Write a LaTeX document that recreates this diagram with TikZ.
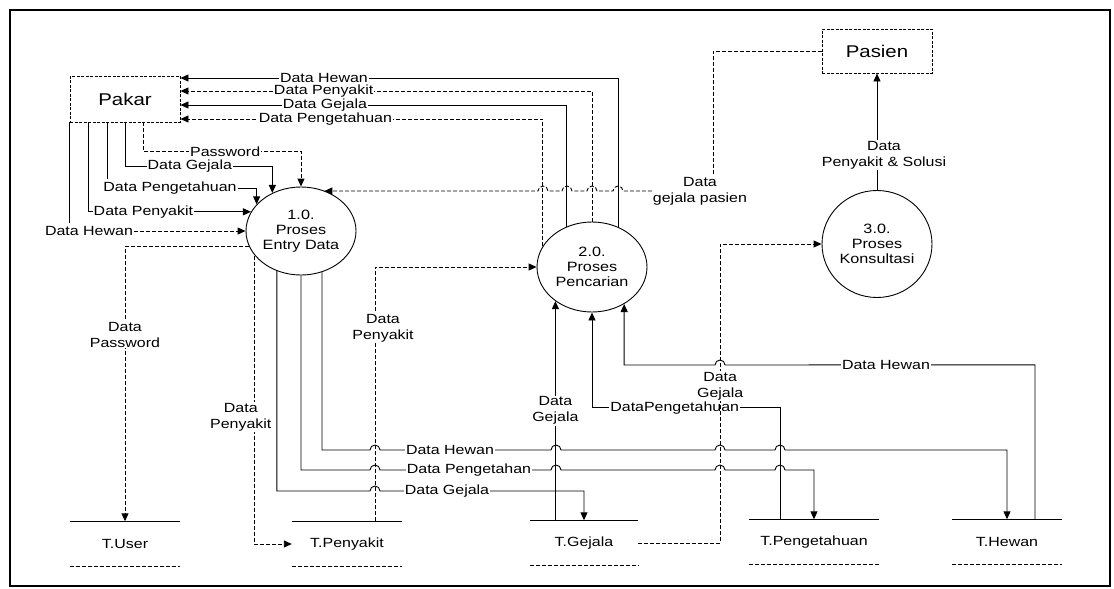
\documentclass[tikz,border=0pt]{standalone}
\usepackage{fontspec}
\setmainfont{Liberation Sans}[FakeStretch=1.2]
\usetikzlibrary{arrows.meta,shapes.geometric}

\newcommand{\labfont}{\fontsize{13.3}{16}\selectfont}
\newcommand{\entfont}{\fontsize{17}{17}\selectfont}
% small hop over a crossing line, going right / going left
\newcommand{\hopr}[2]{-- ({#1-5},#2) arc (180:0:5)}
\newcommand{\hopl}[2]{-- ({#1+5},#2) arc (0:180:5)}

\begin{document}
\begin{tikzpicture}[x=1pt,y=1pt,
  flow/.style={line width=0.9pt},
  dflow/.style={flow,dash pattern=on 4pt off 2pt},
  arr/.style={-{Triangle[length=8pt,width=7pt]}},
  ent/.style={draw,line width=0.9pt,dash pattern=on 3pt off 1.5pt,font=\entfont},
  proc/.style={ellipse,draw,line width=0.9pt,inner sep=0pt,align=center,font=\fontsize{13.5}{15}\selectfont},
  store/.style={minimum height=45pt,inner sep=0pt,font=\labfont},
  lbl/.style={fill=white,inner sep=1pt,align=center,font=\labfont}]
  \useasboundingbox (0,0) rectangle (1114,-589);
  \draw[line width=1.4pt] (10,-10) rectangle (1110,-586);

  % externals
  \node[ent,minimum width=110pt,minimum height=46pt] (pakar) at (125,-99) {Pakar};
  \node[ent,minimum width=110pt,minimum height=44pt] (pasien) at (877,-51) {Pasien};

  % processes
  \node[proc,minimum width=110pt,minimum height=88pt] (p1) at (301,-231) {1.0.\\Proses\\Entry Data};
  \node[proc,minimum width=110pt,minimum height=90pt] (p2) at (592,-267) {2.0.\\Proses\\Pencarian};
  \node[proc,minimum width=110pt,minimum height=107pt] (p3) at (877,-244) {3.0.\\Proses\\Konsultasi};

  % data stores
  \node[store,minimum width=110pt] (tuser) at (125,-544) {T.User};
  \node[store,minimum width=110pt] (tpenyakit) at (347,-544) {T.Penyakit};
  \node[store,minimum width=108pt] (tgejala) at (584,-543) {T.Gejala};
  \node[store,minimum width=130pt] (tpengetahuan) at (814,-542) {T.Pengetahuan};
  \node[store,minimum width=110pt] (thewan) at (1007,-542) {T.Hewan};
  \foreach \s in {tuser,tpenyakit,tgejala,tpengetahuan,thewan}{
    \draw[flow] (\s.north west) -- (\s.north east);
    \draw[dflow] (\s.south west) -- (\s.south east);
  }

  % 2.0 back to Pakar
  \draw[flow,arr] (p2.57) |- ([yshift=21pt]pakar.east) node[lbl,pos=0.836] (lh1) {Data Hewan};
  \draw[dflow,arr] (p2.north) |- ([yshift=8pt]pakar.east) node[lbl,pos=0.826] (lpy1) {Data Penyakit};
  \draw[flow,arr] (p2.122) |- ([yshift=-6pt]pakar.east) node[lbl,pos=0.813] (lgj1) {Data Gejala};
  \draw[dflow,arr] (p2.157) |- ([yshift=-20pt]pakar.east) node[lbl,pos=0.80] (lpg1) {Data Pengetahuan};

  % Pasien to 1.0
  \node[lbl] (gp) at (700,-191) {Data\\gejala pasien};
  \draw[dflow] (pasien.west) -| ([xshift=13pt]gp.north);
  \draw[dflow,arr] (gp.west) \hopl{618}{-191} \hopl{592}{-191} \hopl{567}{-191} \hopl{543}{-191} -- (gp.west -| p1.60);

  % Pakar to 1.0
  \draw[dflow,arr] ([xshift=18pt]pakar.south) -- ++(0,-29) -| (p1.north) node[lbl,pos=0.26] (lpw) {Password};
  \draw[flow,arr] (pakar.south) -- ++(0,-44) -| (p1.127) node[lbl,pos=0.22] (lgj) {Data Gejala};
  \node[lbl] (lpg) at (170,-188) {Data Pengetahuan};
  \draw[flow] ([xshift=-18pt]pakar.south) -- ++(0,-57);
  \draw[flow,arr] (lpg.east) -| (p1.149);
  \draw[flow,arr] ([xshift=-37pt]pakar.south) |- (p1.159) node[lbl,pos=0.67] (lpy) {Data Penyakit};
  \node[lbl] (lhw) at (89,-231) {Data Hewan};
  \draw[flow] (pakar.south west) -- ++(0,-101);
  \draw[dflow,arr] (lhw.east) -- (p1.west);

  % 1.0 to the stores
  \draw[dflow,arr] (p1.197) -| (tuser.north) node[lbl,pos=0.66] (ldp) {Data\\Password};
  \draw[dflow,arr] (p1.208) |- (tpenyakit.west) node[lbl,pos=0.28,xshift=-14pt] (ldpy) {Data\\Penyakit};
  \draw[flow,arr] (p1.239) -- (p1.239 |- 0,-491) \hopr{375}{-491} -| (tgejala.north);
  \draw[flow,arr] (p1.south) -- (p1.south |- 0,-470) \hopr{375}{-470} \hopr{556}{-470} \hopr{720}{-470} \hopr{780}{-470} -| (tpengetahuan.north);
  \draw[flow,arr] (p1.297) -- (p1.297 |- 0,-450) \hopr{375}{-450} \hopr{556}{-450} \hopr{720}{-450} \hopr{780}{-450} -| (thewan.north);
  \node[lbl] (lgj2) at (447,-491) {Data Gejala};
  \node[lbl] (lpg2) at (469,-470) {Data Pengetahan};
  \node[lbl] (lhw2) at (450,-450) {Data Hewan};

  % stores to 2.0
  \draw[dflow,arr] ([xshift=28pt]tpenyakit.north) |- (p2.west) node[lbl,pos=0.38,xshift=8pt] (ldpy2) {Data\\Penyakit};
  \draw[flow,arr] (tgejala.north -| p2.223) -- (p2.223) node[lbl,midway] (lgj3) {Data\\Gejala};
  \draw[flow,arr] ([xshift=-34pt]tpengetahuan.north) -- ++(0,111.5) -| (p2.south) node[lbl,pos=0.28] (ldpg) {DataPengetahuan};
  \draw[flow,arr] ([xshift=28pt]thewan.north) -- ++(0,154.5) \hopl{720}{-365} -| (p2.311);
  \node[lbl] (lhw3) at (886,-365) {Data Hewan};

  % 3.0
  \draw[dflow,arr] (tgejala.east) -- ++(82,0) |- (p3.west) node[lbl,pos=0.262] (lgj4) {Data\\Gejala};
  \draw[flow,arr] (p3.north) -- (pasien.south) node[lbl,pos=0.3,xshift=7pt] (lps) {Data\\Penyakit \& Solusi};
\end{tikzpicture}
\end{document}
